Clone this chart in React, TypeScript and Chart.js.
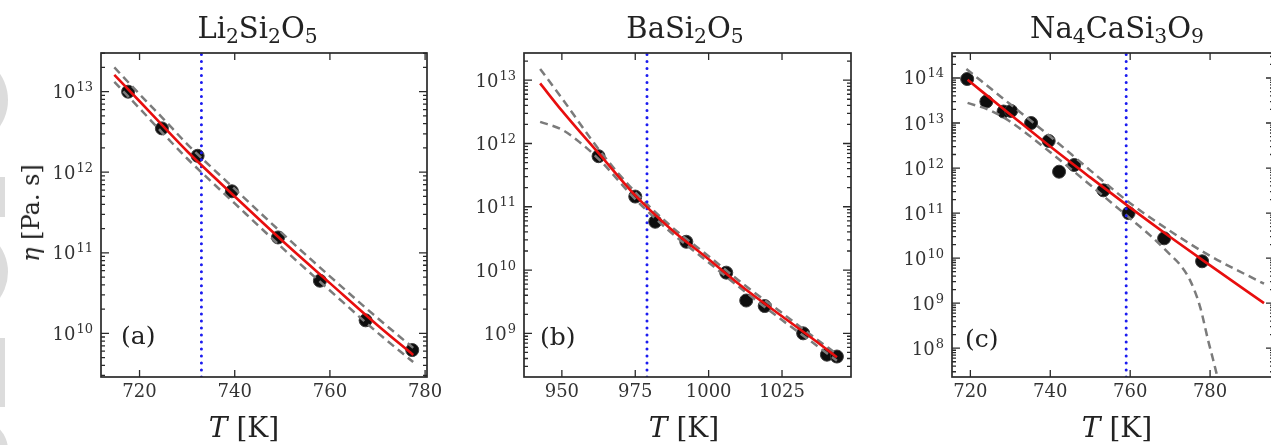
import React, { useEffect, useRef } from 'react';
import { Chart, registerables } from 'chart.js';

Chart.register(...registerables);

// ---------- Panel (a) Li2Si2O5 ----------
const aT = [717.6, 724.7, 732.2, 739.4, 749.1, 757.9, 767.5, 777.3];
const aEta = [1.0e13, 3.5e12, 1.6e12, 5.8e11, 1.55e11, 4.5e10, 1.45e10, 6.2e9];
const aFitT = [714.7, 720, 725, 730, 740, 750, 760, 770, 777.5];
const aFitEta = [1.62e13, 7.6e12, 3.7e12, 1.82e12, 5.0e11, 1.41e11, 4.2e10, 1.26e10, 5.4e9];
const aUpEta = [2.0e13, 9.3e12, 4.6e12, 2.24e12, 6.2e11, 1.74e11, 5.1e10, 1.55e10, 6.6e9];
const aLoEta = [1.32e13, 6.2e12, 3.0e12, 1.48e12, 4.1e11, 1.15e11, 3.4e10, 1.02e10, 4.4e9];
const aTg = 733;
const aXTicks = [720, 740, 760, 780];
const aYTicks = [1e10, 1e11, 1e12, 1e13];

// ---------- Panel (b) BaSi2O5 ----------
const bT = [962.5, 975, 981.8, 992.4, 1006, 1012.8, 1019.1, 1032.2, 1040.3, 1043.7];
const bEta = [6.3e11, 1.45e11, 5.8e10, 2.8e10, 9.1e9, 3.3e9, 2.7e9, 1.0e9, 4.6e8, 4.3e8];
const bFitT = [942.6, 950, 963, 975, 987, 1000, 1012, 1025, 1035, 1043.7];
const bFitEta = [8.9e12, 3.3e12, 6.6e11, 1.51e11, 4.5e10, 1.48e10, 5.2e9, 1.86e9, 8.5e8, 4.2e8];
const bUpEta = [1.51e13, 5.2e12, 7.6e11, 1.7e11, 5.0e10, 1.66e10, 5.9e9, 2.1e9, 9.3e8, 4.7e8];
const bLoT = [942.6, 950, 955, 963, 975, 987, 1000, 1012, 1025, 1035, 1043.7];
const bLoEta = [2.2e12, 1.66e12, 1.15e12, 5.4e11, 1.32e11, 4.0e10, 1.32e10, 4.7e9, 1.62e9, 7.4e8, 3.7e8];
const bTg = 979;
const bXTicks = [950, 975, 1000, 1025];
const bYTicks = [1e9, 1e10, 1e11, 1e12, 1e13];

// ---------- Panel (c) Na4CaSi3O9 ----------
const cT = [719.2, 724, 728.3, 730.2, 735.2, 739.6, 742.2, 746, 753.3, 759.6, 768.5, 778];
const cEta = [9.5e13, 3.0e13, 1.8e13, 1.85e13, 1.0e13, 4.0e12, 8.3e11, 1.17e12, 3.2e11, 1.0e11, 2.75e10, 8.5e9];
const cFitT = [719.3, 730, 740, 750, 760, 770, 780, 793.5];
const cFitEta = [9.1e13, 1.55e13, 3.0e12, 6.2e11, 1.32e11, 2.95e10, 6.9e9, 1.0e9];
const cUpT = [719, 730, 740, 750, 760, 770, 780, 793.5];
const cUpEta = [1.58e14, 2.6e13, 5.0e12, 8.9e11, 1.66e11, 4.0e10, 1.12e10, 2.7e9];
const cLoT = [719.3, 725, 730, 740, 750, 760, 765, 770, 772.5, 775, 777.5, 779.5, 780.8, 782];
const cLoEta = [2.8e13, 1.9e13, 1.07e13, 2.24e12, 4.2e11, 7.6e10, 3.2e10, 1.2e10, 7.1e9, 3.2e9, 8.3e8, 1.5e8, 5.4e7, 2.0e7];
const cTg = 759;
const cXTicks = [720, 740, 760, 780];
const cYTicks = [1e8, 1e9, 1e10, 1e11, 1e12, 1e13, 1e14];

const FONT = '"DejaVu Serif", serif';
const RED = '#e80e0e';
const BLUE = '#1c1cf0';
const GRAY = '#7b7b7b';
const INK = '#2a2a2a';

const frameTicks = {
  id: 'frameTicks',
  afterDatasetsDraw(chart: any) {
    const { ctx, chartArea: a, scales } = chart;
    const xs = scales.x;
    const ys = scales.y;
    ctx.save();
    ctx.strokeStyle = INK;
    ctx.lineWidth = 1.3;
    ctx.beginPath();
    xs.ticks.forEach((t: any) => {
      const px = xs.getPixelForValue(t.value);
      ctx.moveTo(px, a.bottom);
      ctx.lineTo(px, a.bottom - 7);
      ctx.moveTo(px, a.top);
      ctx.lineTo(px, a.top + 7);
    });
    ys.ticks.forEach((t: any) => {
      const py = ys.getPixelForValue(t.value);
      ctx.moveTo(a.left, py);
      ctx.lineTo(a.left + 8, py);
      ctx.moveTo(a.right, py);
      ctx.lineTo(a.right - 8, py);
    });
    const lo = Math.floor(Math.log10(ys.min));
    const hi = Math.ceil(Math.log10(ys.max));
    for (let d = lo; d <= hi; d++) {
      for (let m = 2; m <= 9; m++) {
        const v = m * Math.pow(10, d);
        if (v < ys.min || v > ys.max) continue;
        const py = ys.getPixelForValue(v);
        ctx.moveTo(a.left, py);
        ctx.lineTo(a.left + 4, py);
        ctx.moveTo(a.right, py);
        ctx.lineTo(a.right - 4, py);
      }
    }
    ctx.stroke();
    ctx.lineWidth = 1.7;
    ctx.strokeRect(a.left, a.top, a.right - a.left, a.bottom - a.top);

    // decade labels "10^n" on the log axis, placed at the scale's tick pixels
    ctx.fillStyle = '#333';
    ctx.textBaseline = 'alphabetic';
    ctx.textAlign = 'left';
    const baseFont = `18px ${FONT}`;
    const expFont = `13px ${FONT}`;
    ys.ticks.forEach((t: any) => {
      const py = ys.getPixelForValue(t.value);
      const e = String(Math.round(Math.log10(t.value)));
      ctx.font = baseFont;
      const wb = ctx.measureText('10').width;
      ctx.font = expFont;
      const we = ctx.measureText(e).width;
      const x0 = a.left - 8 - wb - we - 1;
      ctx.font = baseFont;
      ctx.fillText('10', x0, py + 6.5);
      ctx.font = expFont;
      ctx.fillText(e, x0 + wb + 1, py - 0.5);
    });
    ctx.restore();
  },
};

type PanelCfg = {
  left: number;
  width: number;
  yAxisW: number;
  padRight: number;
  xMin: number;
  xMax: number;
  yMin: number;
  yMax: number;
  xTicks: number[];
  yTicks: number[];
  T: number[];
  eta: number[];
  fitT: number[];
  fitEta: number[];
  upT: number[];
  upEta: number[];
  loT: number[];
  loEta: number[];
  tg: number;
};

const pts = (xs: number[], ys: number[]) => xs.map((x, i) => ({ x, y: ys[i] }));

function buildConfig(p: PanelCfg): any {
  const curve = {
    showLine: true,
    pointRadius: 0,
    cubicInterpolationMode: 'monotone',
    tension: 0.4,
  };
  return {
    type: 'scatter',
    data: {
      datasets: [
        { ...curve, data: pts(p.fitT, p.fitEta), borderColor: RED, borderWidth: 2.6 },
        {
          showLine: true,
          pointRadius: 0,
          tension: 0,
          data: [
            { x: p.tg, y: p.yMin },
            { x: p.tg, y: p.yMax },
          ],
          borderColor: BLUE,
          borderWidth: 3,
          borderDash: [0.01, 7],
          borderCapStyle: 'round',
        },
        { ...curve, data: pts(p.upT, p.upEta), borderColor: GRAY, borderWidth: 2.5, borderDash: [8, 5] },
        { ...curve, data: pts(p.loT, p.loEta), borderColor: GRAY, borderWidth: 2.5, borderDash: [8, 5] },
        {
          data: pts(p.T, p.eta),
          showLine: false,
          pointRadius: 6.5,
          backgroundColor: '#0e0e0e',
          borderColor: '#3a3a3a',
          borderWidth: 1,
        },
      ],
    },
    options: {
      animation: false,
      responsive: false,
      events: [],
      layout: { padding: { top: 53, right: p.padRight, left: 0, bottom: 0 } },
      plugins: {
        legend: { display: false },
        tooltip: { enabled: false },
        title: { display: false },
      },
      scales: {
        x: {
          type: 'linear',
          min: p.xMin,
          max: p.xMax,
          afterBuildTicks: (s: any) => {
            s.ticks = p.xTicks.map((v) => ({ value: v }));
          },
          afterFit: (s: any) => {
            s.height = 68;
          },
          grid: { display: false, drawTicks: false, tickLength: 0 },
          border: { display: false },
          ticks: {
            font: { family: FONT, size: 18 },
            color: '#333',
            padding: 5,
            autoSkip: false,
            maxRotation: 0,
            callback: (v: any) => String(v),
          },
        },
        y: {
          type: 'logarithmic',
          min: p.yMin,
          max: p.yMax,
          afterBuildTicks: (s: any) => {
            s.ticks = p.yTicks.map((v) => ({ value: v }));
          },
          afterFit: (s: any) => {
            s.width = p.yAxisW;
          },
          grid: { display: false, drawTicks: false, tickLength: 0 },
          border: { display: false },
          ticks: { display: false, autoSkip: false },
        },
      },
    },
    plugins: [frameTicks],
  };
}

function Panel({ cfg }: { cfg: PanelCfg }) {
  const ref = useRef<HTMLCanvasElement>(null);
  useEffect(() => {
    const chart = new Chart(ref.current as HTMLCanvasElement, buildConfig(cfg));
    return () => chart.destroy();
  }, []);
  return (
    <canvas
      ref={ref}
      width={cfg.width}
      height={445}
      style={{ position: 'absolute', left: cfg.left, top: 0, width: cfg.width, height: 445 }}
    />
  );
}

const panels: PanelCfg[] = [
  {
    left: 0, width: 470, yAxisW: 101, padRight: 43,
    xMin: 711.9, xMax: 780.4, yMin: Math.pow(10, 9.458), yMax: Math.pow(10, 13.48),
    xTicks: aXTicks, yTicks: aYTicks,
    T: aT, eta: aEta, fitT: aFitT, fitEta: aFitEta,
    upT: aFitT, upEta: aUpEta, loT: aFitT, loEta: aLoEta, tg: aTg,
  },
  {
    left: 430, width: 470, yAxisW: 94, padRight: 49,
    xMin: 937.1, xMax: 1048.5, yMin: Math.pow(10, 8.31), yMax: Math.pow(10, 13.43),
    xTicks: bXTicks, yTicks: bYTicks,
    T: bT, eta: bEta, fitT: bFitT, fitEta: bFitEta,
    upT: bFitT, upEta: bUpEta, loT: bLoT, loEta: bLoEta, tg: bTg,
  },
  {
    left: 860, width: 460, yAxisW: 92, padRight: 46,
    xMin: 715.4, xMax: 796, yMin: Math.pow(10, 7.36), yMax: Math.pow(10, 14.555),
    xTicks: cXTicks, yTicks: cYTicks,
    T: cT, eta: cEta, fitT: cFitT, fitEta: cFitEta,
    upT: cUpT, upEta: cUpEta, loT: cLoT, loEta: cLoEta, tg: cTg,
  },
];

const sub = (s: string) => (
  <span style={{ fontSize: '0.7em', verticalAlign: '-0.25em' }}>{s}</span>
);

const txt: React.CSSProperties = {
  position: 'absolute',
  fontFamily: FONT,
  color: '#222',
  lineHeight: 1,
  whiteSpace: 'nowrap',
};

export default function App() {
  useEffect(() => {
    document.body.style.margin = '0';
  }, []);
  const blob = (top: number, h: number, w: number, round: boolean): React.CSSProperties => ({
    position: 'absolute',
    left: round ? w - h : 0,
    top,
    width: round ? h : w,
    height: h,
    borderRadius: round ? '50%' : 0,
    background: '#dcdcdc',
  });
  return (
    <div
      style={{
        position: 'fixed', left: 0, top: 0, width: 1271, height: 445,
        overflow: 'hidden', background: '#fff',
      }}
    >
      <div style={blob(53, 94, 8, true)} />
      <div style={blob(177, 40, 5, false)} />
      <div style={blob(227, 90, 8, true)} />
      <div style={blob(338, 69, 5, false)} />
      <div style={blob(420, 60, 8, true)} />

      {panels.map((p, i) => (
        <Panel key={i} cfg={p} />
      ))}

      {/* titles */}
      <div style={{ ...txt, left: 257.5, top: 13.5, fontSize: 29, transform: 'translateX(-50%)' }}>
        Li{sub('2')}Si{sub('2')}O{sub('5')}
      </div>
      <div style={{ ...txt, left: 685, top: 13.5, fontSize: 29, transform: 'translateX(-50%)' }}>
        BaSi{sub('2')}O{sub('5')}
      </div>
      <div style={{ ...txt, left: 1117, top: 13.5, fontSize: 29, transform: 'translateX(-50%)' }}>
        Na{sub('4')}CaSi{sub('3')}O{sub('9')}
      </div>

      {/* x axis labels */}
      {[244, 684, 1117].map((cx, i) => (
        <div key={i} style={{ ...txt, left: cx, top: 414, fontSize: 28, transform: 'translateX(-50%)' }}>
          <i>T</i> [K]
        </div>
      ))}

      {/* y axis label */}
      <div
        style={{
          ...txt, left: 31, top: 213, fontSize: 24,
          transform: 'translate(-50%, -50%) rotate(-90deg)',
        }}
      >
        <i>η</i> [Pa. s]
      </div>

      {/* panel letters */}
      <div style={{ ...txt, left: 121, top: 323, fontSize: 25 }}>(a)</div>
      <div style={{ ...txt, left: 540, top: 324, fontSize: 25 }}>(b)</div>
      <div style={{ ...txt, left: 965, top: 326, fontSize: 25 }}>(c)</div>
    </div>
  );
}
